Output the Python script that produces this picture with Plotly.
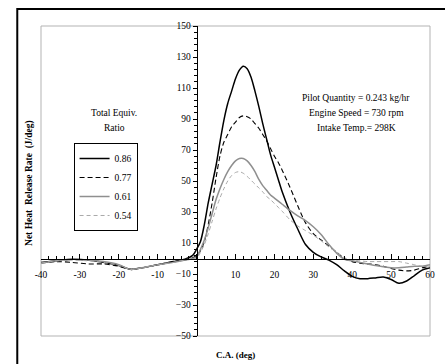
import plotly.graph_objects as go

# Crank angle (deg)
ca = [-40, -36, -32, -28, -24, -20, -17, -14, -10, -6, -3, -1, 0, 1, 2, 3, 4, 5, 6, 7, 8, 9,
      10, 11, 12, 13, 14, 15, 16, 17, 18, 19, 20, 21, 22, 24, 26, 28, 30, 32, 34, 36, 38,
      40, 42, 44, 46, 48, 50, 52, 54, 56, 58, 60]

hr_086 = [-2.5, -1.5, -0.5, -1, -2.5, -4.5, -7, -6, -4, -2, -0.5, 2, 6, 11, 22, 36, 48, 60, 75, 89, 100, 108,
          116, 121.5, 124, 122.5, 117, 108, 98, 87, 77, 67, 59, 51, 43, 30, 19, 9, 4, 1, -1, -4, -8,
          -11.5, -13, -13, -12.5, -12, -13.5, -16, -14.5, -11, -7.5, -6]
hr_077 = [-3, -2, -2.5, -3.5, -3.5, -5, -7, -6, -4, -2, -1, 0.5, 2, 5, 11, 22, 36, 52, 66, 75, 80, 85,
          88, 91, 92, 91.5, 90, 87, 84, 80, 76, 71, 66, 62, 57, 46, 34, 23, 16, 12, 8, 4, 0,
          -2, -3, -3.5, -4, -5, -6.5, -7.5, -8, -7.5, -6, -5]
hr_061 = [-3, -1.5, -0.5, -1, -2, -4, -7, -6, -4, -2.5, -1, 0, 1, 6, 12, 20, 29, 38, 45, 51, 56, 60,
          63, 64.5, 64.5, 63, 60, 56, 51, 47, 44, 41, 39, 37, 35, 31, 27.5, 24.5, 20.5, 15.5, 9, 3.5, -0.5,
          -1.5, -2.5, -3.5, -4.5, -5.3, -6, -6, -5.5, -5, -5, -4]
hr_054 = [-3, -1.5, -1, -1.5, -2.5, -4.5, -7, -6, -4, -2.5, -1, -0.5, 0, 4, 9, 16, 24, 32, 39, 45, 50, 53.5,
          55.5, 56, 55, 53, 50.5, 48, 45.5, 43, 40, 38, 35.5, 33, 30.5, 25, 21, 18, 15, 11.5, 7.5, 4, 0.5,
          -1, -1.5, -2, -2, -2, -2, -2, -3, -4, -5, -5.5]

names = ["0.86", "0.77", "0.61", "0.54"]
x_ticks = [-40, -30, -20, -10, 0, 10, 20, 30, 40, 50, 60]
x_ticktext = ["-40", "-30", "-20", "-10", "", "10", "20", "30", "40", "50", "60"]
y_ticks = [-50, -30, -10, 10, 30, 50, 70, 90, 110, 130, 150]
info_lines = ["Pilot Quantity = 0.243 kg/hr", "Engine Speed = 730 rpm", "Intake Temp.= 298K"]
legend_title_lines = ["Total Equiv.", "Ratio"]

FONT = "Liberation Serif, Times New Roman, serif"

fig = go.Figure()
styles = [
    dict(color="black", width=1.5, dash="solid"),
    dict(color="black", width=1.1, dash="5px,3px"),
    dict(color="#8f8f8f", width=1.5, dash="solid"),
    dict(color="#a9a9a9", width=1.0, dash="4px,3px"),
]
for name, ys, st in zip(names, [hr_086, hr_077, hr_061, hr_054], styles):
    fig.add_trace(go.Scatter(x=ca, y=ys, mode="lines", name=name,
                             line=dict(shape="spline", smoothing=0.8, **st)))

annotations = [
    dict(text="<b>Net Heat  Release Rate  (J/deg)</b>", xref="paper", yref="paper",
         x=-0.028, y=0.494, xanchor="center", yanchor="middle", textangle=-90,
         showarrow=False, font=dict(size=9.5)),
    dict(text="<b>C.A. (deg)</b>", xref="paper", yref="paper", x=0.5, y=-0.061,
         xanchor="center", yanchor="middle", showarrow=False, font=dict(size=9)),
]
for i, t in enumerate(legend_title_lines):
    annotations.append(dict(text=t, xref="paper", yref="paper", x=0.188, y=0.7194 - i * 0.0484,
                            xanchor="center", yanchor="middle", showarrow=False,
                            font=dict(size=9.5)))
for i, t in enumerate(info_lines):
    annotations.append(dict(text=t, xref="paper", yref="paper", x=0.81, y=0.7677 - i * 0.0484,
                            xanchor="center", yanchor="middle", showarrow=False,
                            font=dict(size=9.5)))

fig.update_layout(
    width=445, height=364,
    margin=dict(l=41, r=10, t=26, b=28),
    paper_bgcolor="white", plot_bgcolor="white",
    font=dict(family=FONT, size=9.5, color="black"),
    showlegend=True,
    legend=dict(x=0.166, y=0.6226, xanchor="center", yanchor="top",
                bordercolor="black", borderwidth=1, bgcolor="white",
                font=dict(family=FONT, size=9.5), tracegroupgap=0, itemwidth=30),
    xaxis=dict(range=[-40, 60], anchor="free", position=0.25, showline=True, linecolor="black",
               linewidth=1, ticks="inside", ticklen=5, tickcolor="black",
               tickmode="array", tickvals=x_ticks, ticktext=x_ticktext, ticklabelstandoff=7,
               minor=dict(dtick=2, tick0=-40, ticks="inside", ticklen=3, tickcolor="black"),
               showgrid=False, zeroline=False, tickfont=dict(size=9.5)),
    yaxis=dict(range=[-50, 150], anchor="free", position=0.4, showline=True, linecolor="black",
               linewidth=1, ticks="outside", ticklen=4, tickcolor="black",
               tickmode="array", tickvals=y_ticks,
               minor=dict(dtick=4, tick0=-50, ticks="outside", ticklen=2.5, tickcolor="black"),
               showgrid=False, zeroline=False, tickfont=dict(size=9.5)),
    shapes=[
        dict(type="rect", xref="paper", yref="paper", x0=0, x1=1, y0=0, y1=1,
             line=dict(color="#b3b3b3", width=1), layer="below"),
        dict(type="rect", xref="paper", yref="paper", x0=-0.061, x1=1.2, y0=-0.4, y1=1.0548,
             line=dict(color="black", width=2)),
    ],
    annotations=annotations,
)

fig.write_html("out.html")
